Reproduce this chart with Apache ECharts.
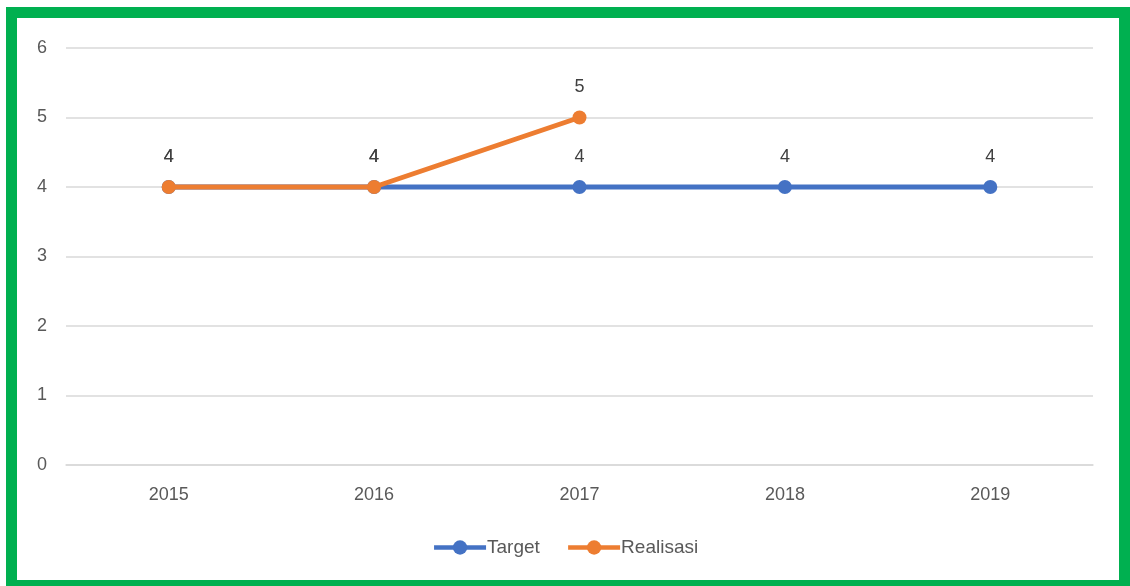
<!DOCTYPE html>
<html>
<head>
<meta charset="utf-8">
<script src="https://cdn.jsdelivr.net/npm/echarts@6/dist/echarts.min.js"></script>
<style>
html,body{margin:0;padding:0;background:#fff;width:1130px;height:586px;overflow:hidden;}
#frame{position:absolute;left:6px;top:7px;width:1124px;height:584px;box-sizing:border-box;border:11px solid #00B050;}
#chart{position:absolute;left:0;top:0;width:1130px;height:586px;}
</style>
</head>
<body>
<div id="frame"></div>
<div id="chart"></div>
<script>
const categories = ['2015', '2016', '2017', '2018', '2019'];
const targetValues = [4, 4, 4, 4, 4];
const realisasiValues = [4, 4, 5, null, null];
const yTicks = [0, 1, 2, 3, 4, 5, 6];

const font = 'Liberation Sans, Arial, sans-serif';
const chart = echarts.init(document.getElementById('chart'));
chart.setOption({
  animation: false,
  backgroundColor: 'transparent',
  grid: {left: 66, right: 37, top: 48, bottom: 121, containLabel: false},
  legend: {
    bottom: 24,
    left: 'center',
    itemWidth: 52,
    itemHeight: 18,
    itemGap: 26,
    lineStyle: {width: 4.5},
    textStyle: {fontFamily: font, fontSize: 19, color: '#595959', padding: [0, 0, 0, -4]},
    data: ['Target', 'Realisasi']
  },
  xAxis: {
    type: 'category',
    data: categories,
    boundaryGap: true,
    axisLine: {show: true, lineStyle: {color: '#D9D9D9', width: 1.5}},
    axisTick: {show: false},
    axisLabel: {fontFamily: font, fontSize: 18, color: '#595959', margin: 21}
  },
  yAxis: {
    type: 'value',
    min: yTicks[0],
    max: yTicks[yTicks.length - 1],
    interval: 1,
    axisLine: {show: false},
    axisTick: {show: false},
    splitLine: {lineStyle: {color: '#D9D9D9', width: 1.5}},
    axisLabel: {fontFamily: font, fontSize: 18, color: '#595959', margin: 19}
  },
  series: [
    {
      name: 'Target',
      type: 'line',
      data: targetValues,
      symbol: 'circle',
      symbolSize: 14,
      color: '#4472C4',
      lineStyle: {width: 5, color: '#4472C4'},
      itemStyle: {color: '#4472C4'},
      label: {show: true, position: 'top', distance: 14, fontFamily: font, fontSize: 18, color: '#404040'},
      z: 2
    },
    {
      name: 'Realisasi',
      type: 'line',
      data: realisasiValues,
      symbol: 'circle',
      symbolSize: 14,
      color: '#ED7D31',
      lineStyle: {width: 5, color: '#ED7D31'},
      itemStyle: {color: '#ED7D31'},
      label: {show: true, position: 'top', distance: 14, fontFamily: font, fontSize: 18, color: '#404040'},
      z: 3
    }
  ]
});
</script>
</body>
</html>
